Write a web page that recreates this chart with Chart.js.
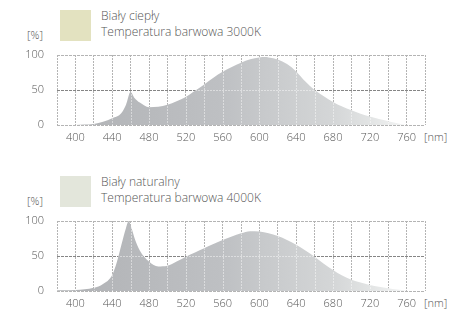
<html lang="pl">

<head>
    <meta charset="UTF-8">
    <title>Widmo - biały ciepły / naturalny</title>
    <script src="https://cdn.jsdelivr.net/npm/chart.js"></script>
    <style>
        body { margin: 0; background: #fff; font-family: 'Open Sans', 'Noto Sans', sans-serif; font-weight: 300; color: #555; }
        .panel { position: absolute; left: 0; width: 464px; height: 150px; }
        .swatch { position: absolute; left: 60px; top: 10px; width: 31px; height: 31px; }
        .title { position: absolute; left: 101px; top: 8px; font-size: 12px; line-height: 15.5px; color: #555; white-space: nowrap; }
        .unit { position: absolute; font-size: 11px; line-height: 14px; color: #555; }
        canvas { position: absolute; left: 0; top: 45px; }
    </style>
</head>

<body>
    <div class="panel" style="top:0">
        <div class="swatch" style="background:#e3e2c0"></div>
        <div class="title">Biały ciepły<br>Temperatura barwowa 3000K</div>
        <div class="unit" style="left:27px; top:28px">[%]</div>
        <div class="unit" style="left:424px; top:130px">[nm]</div>
        <canvas id="chart3000" width="464" height="105"></canvas>
    </div>
    <div class="panel" style="top:166px">
        <div class="swatch" style="background:#e3e6db"></div>
        <div class="title">Biały naturalny<br>Temperatura barwowa 4000K</div>
        <div class="unit" style="left:27px; top:28px">[%]</div>
        <div class="unit" style="left:424px; top:130px">[nm]</div>
        <canvas id="chart4000" width="464" height="105"></canvas>
    </div>

    <script>
        // dane (dlugosc fali w nm, udzial w %)
        const nm3000 = [380, 390, 400, 410, 420, 430, 440, 450, 455, 460, 464, 470, 480, 490, 500, 510, 520, 530, 540, 550, 560, 570, 580, 590, 600, 606, 610, 620, 630, 640, 650, 660, 670, 680, 690, 700, 710, 720, 730, 740, 750, 760];
        const pct3000 = [0, 0, 0, 0.6, 1.6, 4.5, 9.5, 17, 29, 47.5, 39, 32, 25.5, 26, 29, 34, 40, 49, 58, 67.5, 76, 83, 89, 94, 96.5, 97, 96.5, 93.5, 87, 76.5, 62, 50, 41, 33, 26.5, 21, 16, 12, 8.5, 5.5, 2.5, 0];

        const nm4000 = [380, 390, 400, 410, 420, 430, 440, 445, 450, 455, 458, 460, 465, 470, 480, 490, 500, 510, 520, 530, 540, 550, 560, 570, 580, 590, 600, 610, 620, 630, 640, 650, 660, 670, 680, 690, 700, 710, 720, 730, 740, 750, 760];
        const pct4000 = [1, 1.2, 1.6, 2.5, 4.5, 10, 23, 41, 66, 90, 100, 94, 73, 58, 42, 35, 36, 42, 49, 55, 61, 67, 73, 78, 82.5, 85.5, 85, 82.5, 78.5, 73, 66, 58, 49, 39, 30, 22, 16, 12, 8.5, 6, 3.8, 2, 0.5];

        // opisy osi
        const xTickLabels = [400, 440, 480, 520, 560, 600, 640, 680, 720, 760];
        const yTickLabels = [0, 50, 100];

        const tickFont = { family: "'Open Sans', 'Noto Sans', sans-serif", size: 11, weight: '300' };

        // wypelnienie: szary gradient z jasniejszymi liniami siatki wewnatrz
        function fillPattern(chart) {
            const a = chart.chartArea;
            if (!a) return '#b8babd';
            const off = document.createElement('canvas');
            off.width = chart.width;
            off.height = chart.height;
            const c = off.getContext('2d');
            const g = c.createLinearGradient(a.left, 0, a.right, 0);
            g.addColorStop(0, '#b0b2b5');
            g.addColorStop(0.45, '#bec0c3');
            g.addColorStop(0.57, '#c8cacc');
            g.addColorStop(0.75, '#d4d6d7');
            g.addColorStop(0.85, '#e2e4e4');
            g.addColorStop(0.95, '#f4f5f5');
            c.fillStyle = g;
            c.fillRect(a.left, a.top, a.width, a.height);
            c.strokeStyle = 'rgba(255,255,255,0.45)';
            c.setLineDash([2, 1]);
            c.lineWidth = 1;
            c.beginPath();
            for (let v = 380; v <= 780; v += 20) {
                const x = Math.round(chart.scales.x.getPixelForValue(v)) + 0.5;
                c.moveTo(x, a.top);
                c.lineTo(x, a.bottom);
            }
            const y50 = Math.round(chart.scales.y.getPixelForValue(50)) + 0.5;
            c.moveTo(a.left, y50);
            c.lineTo(a.right, y50);
            c.stroke();
            return chart.ctx.createPattern(off, 'no-repeat');
        }

        function rysujWykres(id, nm, pct) {
            const punkty = nm.map((x, i) => ({ x: x, y: pct[i] }));
            return new Chart(document.getElementById(id), {
                type: 'line',
                data: {
                    datasets: [{
                        data: punkty,
                        fill: 'origin',
                        backgroundColor: (ctx) => fillPattern(ctx.chart),
                        borderWidth: 0,
                        pointRadius: 0,
                        cubicInterpolationMode: 'monotone'
                    }]
                },
                options: {
                    responsive: false,
                    animation: false,
                    layout: { padding: { top: 10, right: 39, left: 0, bottom: 0 } },
                    plugins: { legend: { display: false }, tooltip: { enabled: false } },
                    scales: {
                        x: {
                            type: 'linear',
                            min: 380,
                            max: 780,
                            afterBuildTicks: (s) => {
                                s.ticks = [];
                                for (let v = 380; v <= 780; v += 20) s.ticks.push({ value: v });
                            },
                            afterFit: (s) => { s.height = 25; s.paddingLeft = 0; s.paddingRight = 0; },
                            ticks: {
                                autoSkip: false,
                                maxRotation: 0,
                                padding: 6,
                                color: '#555',
                                font: tickFont,
                                callback: (v) => xTickLabels.includes(v) ? String(v) : ''
                            },
                            grid: { color: '#b4b4b4', drawTicks: false },
                            border: { display: false, dash: [2, 1] }
                        },
                        y: {
                            min: 0,
                            max: 100,
                            afterBuildTicks: (s) => { s.ticks = yTickLabels.map(v => ({ value: v })); },
                            // szerokosc osi i brak dodatkowego marginesu od etykiet
                            afterFit: (s) => { s.width = 57; s.paddingTop = 0; s.paddingBottom = 0; },
                            ticks: { padding: 13, color: '#555', font: tickFont },
                            grid: {
                                color: (ctx) => ctx.tick && ctx.tick.value === 50 ? '#858585' : '#b4b4b4',
                                drawTicks: false
                            },
                            border: { display: false, dash: [3, 1] }
                        }
                    }
                }
            });
        }

        rysujWykres('chart3000', nm3000, pct3000);
        rysujWykres('chart4000', nm4000, pct4000);
    </script>
</body>

</html>
